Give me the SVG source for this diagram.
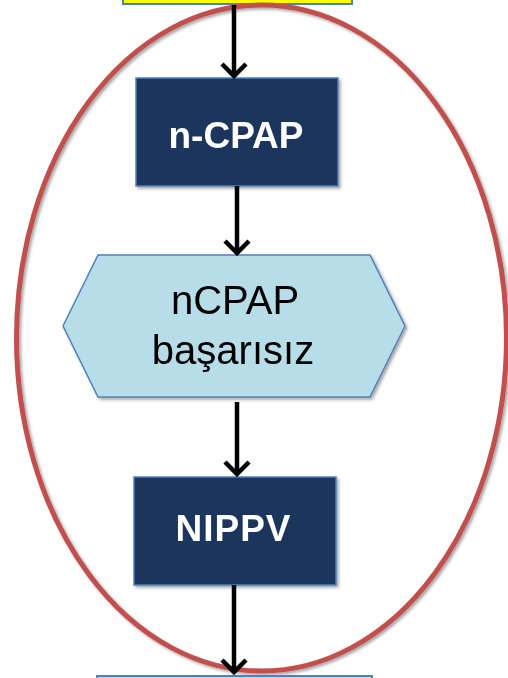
<svg xmlns="http://www.w3.org/2000/svg" width="508" height="678" viewBox="0 0 508 678">
  <style>
    .dark { fill: #1B365D; stroke: #4F81BD; stroke-width: 1.5; }
    .light { fill: #B7DDE8; stroke: #4F81BD; stroke-width: 1.5; }
    .bold { font-family: "Liberation Sans", Arial, sans-serif; font-weight: bold; font-size: 37px; fill: #FFFFFF; text-anchor: middle; }
    .plain { font-family: "Liberation Sans", Arial, sans-serif; font-size: 40px; fill: #000000; text-anchor: middle; }
    .conn { stroke: #000000; stroke-width: 4.5; fill: none; marker-end: url(#chevron); }
  </style>
  <defs>
    <marker id="chevron" markerUnits="userSpaceOnUse" viewBox="-16 -16 20 32" markerWidth="20" markerHeight="32" refX="0" refY="0" orient="auto" overflow="visible">
      <path d="M-12,-12 L0,0 L-12,12" fill="none" stroke="#000000" stroke-width="4.5" stroke-linejoin="miter"/>
    </marker>
    <filter id="shadow" x="-10%" y="-10%" width="130%" height="130%">
      <feDropShadow dx="2" dy="2" stdDeviation="1.5" flood-color="#000000" flood-opacity="0.35"/>
    </filter>
  </defs>

  <rect width="508" height="678" fill="#FFFFFF"/>

  <!-- top box, cut by the frame edge -->
  <g id="node-top">
    <rect x="123" y="-10" width="229" height="14" fill="#FFFF00" stroke="#4F81BD" stroke-width="2"/>
  </g>

  <!-- red highlight ring -->
  <g id="highlight">
    <ellipse cx="261.5" cy="338" rx="245" ry="333" fill="none" stroke="#C0504D" stroke-width="5" filter="url(#shadow)"/>
  </g>

  <g id="node-ncpap" filter="url(#shadow)">
    <rect class="dark" x="136" y="78" width="202" height="108"/>
    <text class="bold" x="236" y="147.5">n-CPAP</text>
  </g>

  <g id="node-fail" filter="url(#shadow)">
    <polygon class="light" points="98,255 370,255 405,326 370,397 98,397 63,326"/>
    <text class="plain" x="235" y="314">nCPAP</text>
    <text class="plain" x="233" y="364">başarısız</text>
  </g>

  <g id="node-nippv" filter="url(#shadow)">
    <rect class="dark" x="134" y="477" width="202" height="108"/>
    <text class="bold" x="233.5" y="541" letter-spacing="1">NIPPV</text>
  </g>

  <!-- next box, cut by the frame edge -->
  <g id="node-bottom">
    <rect x="97" y="676" width="275" height="20" fill="#B7DDE8" stroke="#4F81BD" stroke-width="2"/>
  </g>

  <g id="connectors">
    <line class="conn" x1="234" y1="5" x2="234" y2="76"/>
    <line class="conn" x1="237" y1="186" x2="237" y2="253"/>
    <line class="conn" x1="237" y1="402" x2="237" y2="474"/>
    <line class="conn" x1="234" y1="585" x2="234" y2="672"/>
  </g>
</svg>
